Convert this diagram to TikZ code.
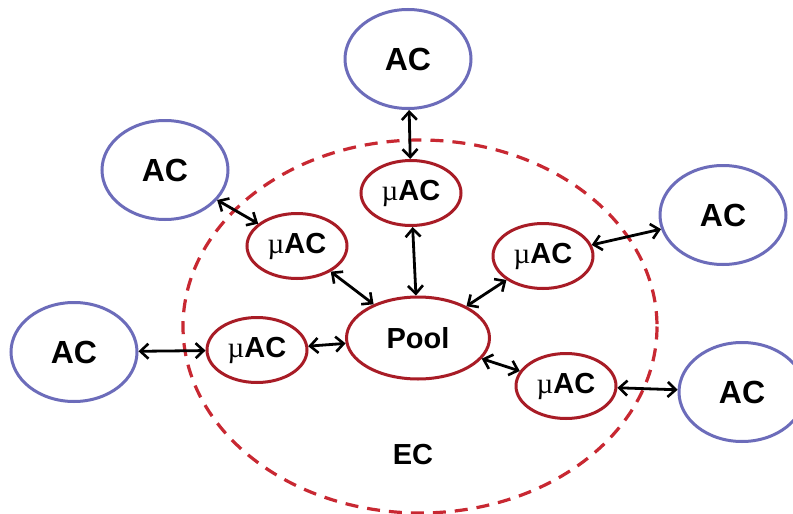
\documentclass[tikz,border=0pt]{standalone}
\usepackage{fontspec}
\setmainfont{Liberation Sans}
\newfontfamily\muserif{Liberation Serif}
\usetikzlibrary{shapes.geometric,arrows.meta}
\definecolor{acblue}{RGB}{108,108,186}
\definecolor{mured}{RGB}{168,28,38}
\definecolor{ecred}{RGB}{200,40,50}
\newcommand{\mutext}{{\muserif\mdseries\textmu}}
\tikzset{
  acnode/.style={ellipse, draw=acblue, line width=3pt, fill=white, inner sep=0pt,
    minimum width=126pt, minimum height=99pt, font=\fontsize{32}{36}\selectfont\bfseries},
  munode/.style={ellipse, draw=mured, line width=3pt, fill=white, inner sep=0pt,
    minimum width=100pt, minimum height=65pt, font=\fontsize{29}{33}\selectfont\bfseries},
  poolnode/.style={munode, minimum width=143pt, minimum height=82pt},
  link/.style={<->, line width=2.8pt, black, >={Straight Barb[length=8pt,width=15pt,line width=2.6pt]}},
  ecline/.style={draw=ecred, line width=3.2pt, dash pattern=on 13pt off 9pt},
}
\begin{document}
\begin{tikzpicture}[x=1pt,y=-1pt]
\useasboundingbox (0,0) rectangle (793,514);
\fill[white] (0,0) rectangle (793,514);
\draw[ecline] (420,326.5) ellipse [x radius=237, y radius=186.5];
\node[acnode] (acT) at (408,59) {AC};
\node[acnode] (acUL) at (165,170) {AC};
\node[acnode] (acL) at (74,352) {AC};
\node[acnode] (acR) at (723,215) {AC};
\node[acnode] (acLR) at (742,392) {AC};
\node[munode] (muT) at (411,193) {\mutext AC};
\node[munode] (muUL) at (297,246) {\mutext AC};
\node[munode] (muL) at (257,350) {\mutext AC};
\node[munode] (muR) at (543,256) {\mutext AC};
\node[munode] (muLR) at (566,386) {\mutext AC};
\node[poolnode] (pool) at (418,338) {Pool};
\node[font=\fontsize{29}{33}\selectfont\bfseries] (ec) at (413,455) {EC};
\draw[link] (acT) -- (muT);
\draw[link] (acUL) -- (muUL);
\draw[link] (acL) -- (muL);
\draw[link] (acR) -- (muR);
\draw[link] (acLR) -- (muLR);
\draw[link] (muT) -- (pool);
\draw[link] (muUL) -- (pool);
\draw[link] (muL) -- (pool);
\draw[link] (muR) -- (pool);
\draw[link] (muLR) -- (pool);
\end{tikzpicture}
\end{document}
